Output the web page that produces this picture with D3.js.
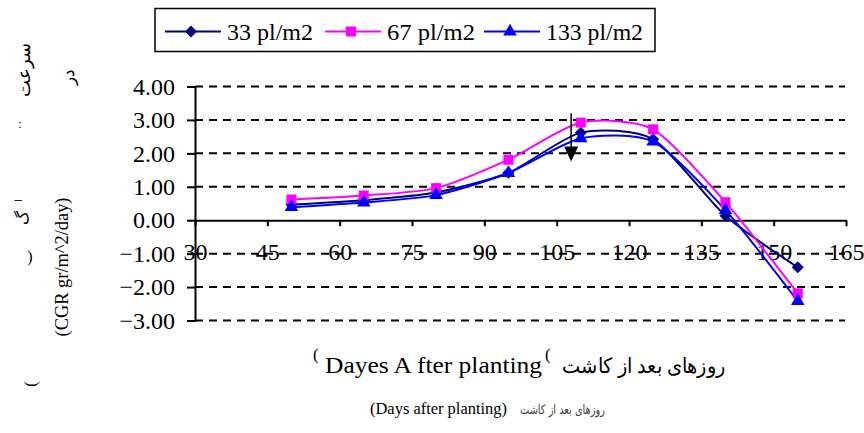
<!DOCTYPE html>
<html><head><meta charset="utf-8">
<script src="https://cdn.jsdelivr.net/npm/d3@7"></script>
<style>body{margin:0;background:#fff}svg{display:block}</style>
</head><body>
<script>
const days = [50, 65, 80, 95, 110, 125, 140, 155];
const pl33 = [0.47, 0.60, 0.83, 1.42, 2.62, 2.42, 0.13, -1.41];
const pl67 = [0.62, 0.74, 0.96, 1.81, 2.92, 2.72, 0.54, -2.19];
const pl133 = [0.39, 0.53, 0.75, 1.41, 2.45, 2.35, 0.30, -2.42];
const seriesNames = ["33 pl/m2", "67 pl/m2", "133 pl/m2"];
const xTicks = [30, 45, 60, 75, 90, 105, 120, 135, 150, 165];
const yTicks = [4, 3, 2, 1, 0, -1, -2, -3];
const arrowDay = 108, arrowFrom = 3.2, arrowTo = 1.76;

const SERIF = "'Liberation Serif', 'Times New Roman', Tinos, 'DejaVu Serif', serif";
const W = 864, H = 433;
const svg = d3.select("body").append("svg").attr("width", W).attr("height", H);
const x = d3.scaleLinear().domain([30, 165]).range([195, 846]);
const y = d3.scaleLinear().domain([-3, 4]).range([320.5, 86.5]);

// gridlines
svg.append("g").selectAll("line").data(yTicks.filter(v => v !== 0)).join("line")
  .attr("x1", x(30)).attr("x2", 845).attr("y1", d => y(d)).attr("y2", d => y(d))
  .attr("stroke", "#000").attr("stroke-width", 2).attr("stroke-dasharray", "8,6");

// y axis
const yAxis = d3.axisLeft(y).tickValues(yTicks).tickFormat(d3.format(".2f")).tickSize(8).tickPadding(12);
const gy = svg.append("g").attr("transform", `translate(${x(30)},0)`).call(yAxis);
gy.select(".domain").attr("stroke", "#000").attr("stroke-width", 2);
gy.selectAll(".tick line").attr("stroke", "#000").attr("stroke-width", 2);
gy.selectAll(".tick text").style("font-family", SERIF).style("font-size", "24px").attr("fill", "#000");

// x axis at y=0
const xAxis = d3.axisBottom(x).tickValues(xTicks).tickSize(6).tickPadding(17).tickSizeOuter(0);
const gx = svg.append("g").attr("transform", `translate(0,${y(0)})`).call(xAxis);
gx.select(".domain").attr("stroke", "#000").attr("stroke-width", 2);
gx.selectAll(".tick line").attr("stroke", "#000").attr("stroke-width", 2);
gx.selectAll(".tick text").style("font-family", SERIF).style("font-size", "24px").attr("fill", "#000");

// series
const colors = ["#000080", "#FF00FF", "#0000FF"];
const symbols = [d3.symbolSquare, d3.symbolSquare, d3.symbolTriangle];
const symSize = [72, 100, 80];
const symRot = [45, 0, 0];
const data = [pl33, pl67, pl133];
const line = d3.line().x((d, i) => x(days[i])).y(d => y(d)).curve(d3.curveCardinal.tension(0.3));
data.forEach((vals, k) => {
  svg.append("path").datum(vals).attr("d", line).attr("fill", "none")
    .attr("stroke", colors[k]).attr("stroke-width", 2);
});
data.forEach((vals, k) => {
  svg.append("g").selectAll("path").data(vals).join("path")
    .attr("d", d3.symbol().type(symbols[k]).size(symSize[k]))
    .attr("transform", (d, i) => `translate(${x(days[i])},${y(d)}) rotate(${symRot[k]})`)
    .attr("fill", colors[k]);
});

// arrow annotation
svg.append("line").attr("x1", x(arrowDay)).attr("x2", x(arrowDay))
  .attr("y1", y(arrowFrom)).attr("y2", y(arrowTo) - 12)
  .attr("stroke", "#000").attr("stroke-width", 1.5);
svg.append("path")
  .attr("d", `M${x(arrowDay) - 7},${y(arrowTo) - 15}L${x(arrowDay) + 7},${y(arrowTo) - 15}L${x(arrowDay)},${y(arrowTo)}Z`)
  .attr("fill", "#000");

function txt(xp, yp, s, str, opts = {}) {
  const t = svg.append("text").attr("x", xp).attr("y", yp)
    .style("font-family", opts.family || SERIF).style("font-size", s + "px")
    .attr("fill", opts.fill || "#000").attr("text-anchor", opts.anchor || "start");
  if (opts.len) t.attr("textLength", opts.len).attr("lengthAdjust", "spacingAndGlyphs");
  if (opts.transform) t.attr("transform", opts.transform);
  t.text(str);
  return t;
}

// legend
svg.append("rect").attr("x", 155).attr("y", 8.5).attr("width", 500).attr("height", 43)
  .attr("fill", "#fff").attr("stroke", "#000").attr("stroke-width", 1.5);
const lx = [165, 325, 484];
const tl = [86, 88, 97];
seriesNames.forEach((n, k) => {
  svg.append("line").attr("x1", lx[k]).attr("x2", lx[k] + 56).attr("y1", 31.5).attr("y2", 31.5)
    .attr("stroke", colors[k]).attr("stroke-width", 2);
  svg.append("path").attr("d", d3.symbol().type(symbols[k]).size(symSize[k])())
    .attr("transform", `translate(${lx[k] + 26},31.5) rotate(${symRot[k]})`).attr("fill", colors[k]);
  txt(lx[k] + 62, 40, 24, n, {len: tl[k]});
});

// x axis titles
txt(313, 360, 17, "(");
txt(325, 373, 24, "Dayes A fter planting", {len: 217});
txt(545, 360, 17, "(");
txt(725, 373, 21, "روزهای بعد از کاشت", {anchor: "end", len: 163});
txt(370, 414, 16, "(Days after planting)", {len: 137});
txt(605, 414, 13, "روزهای بعد از کاشت", {anchor: "end", len: 85, fill: "#444", family: "'DejaVu Sans', sans-serif"});

// y axis title
txt(0, 0, 18, "(CGR gr/m^2/day)", {anchor: "middle", len: 139, transform: "translate(68,267) rotate(-90)"});

// fragmented Persian title remnants
const frag = [
  {t: "سرعت", x: 30, y: 70, s: 18, r: -90},
  {t: "در", x: 74, y: 77, s: 17, r: -90},
  {t: ":", x: 20, y: 128, s: 12, r: 0},
  {t: "ا", x: 22, y: 200, s: 10, r: -90},
  {t: "گ", x: 28, y: 218, s: 16, r: -90},
  {t: ")", x: 30, y: 262, s: 16, r: 0},
  {t: "(", x: 36, y: 384, s: 16, r: -90}
];
frag.forEach(f => {
  txt(0, 0, f.s, f.t, {anchor: "middle", transform: `translate(${f.x},${f.y}) rotate(${f.r})`});
});
</script>
</body></html>
